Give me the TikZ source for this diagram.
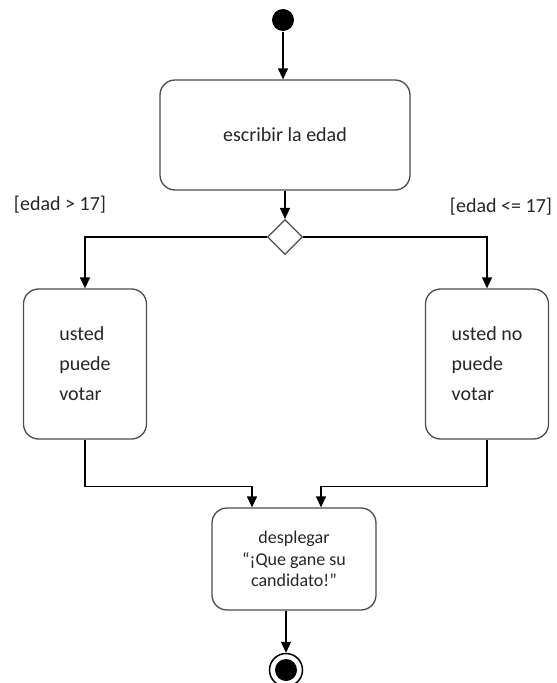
\documentclass[tikz,border=0pt]{standalone}
\usepackage{fontspec}
\setmainfont{Carlito}
\usetikzlibrary{positioning}
\usetikzlibrary{arrows.meta}
\usetikzlibrary{shapes.geometric}

\begin{document}
\begin{tikzpicture}[
            x = 1pt, y = -1pt, % one unit per pixel, downwards
            > = {Triangle[width=10pt,length=11pt]}, % arrow head style
            line width = 1.3pt % line style
        ]

        \tikzstyle{activity}=[
            draw = black!70,
            line width = 1.3pt,
            rounded corners = 15pt,
            fill = white,
            text = black!85,
            inner sep = 0pt,
            font = \fontsize{20}{30}\selectfont
        ]
        \tikzstyle{guard}=[text = black!85, font = \fontsize{20}{24}\selectfont]
        \tikzstyle{flow}=[->, black]

        \useasboundingbox (0,0) rectangle (557,683);

	% START AND INPUT
        \node[circle, fill = black, minimum size = 22pt, inner sep = 0pt] (S0) at (283,20) {};
        \node[activity, minimum width = 250pt, minimum height = 110pt] (E1) at (285,135) {escribir la edad};

	% DECISION
        \node[diamond, draw = black!70, line width = 1.2pt, fill = white, minimum size = 35pt, inner sep = 0pt] (D1) at (285,237) {};
        \node[guard] (G1) at (60,205) {[edad > 17]};
        \node[guard] (G2) at (501,207) {[edad <= 17]};

	% BRANCHES
        \node[activity, minimum width = 123pt, minimum height = 150pt, align = left] (V1) at (85,364) {usted\\puede\\votar};
        \node[activity, minimum width = 123pt, minimum height = 150pt, align = left] (V2) at (487,364) {usted no\\puede\\votar};

	% MERGE AND END
        \node[activity, minimum width = 164pt, minimum height = 102pt, align = center, font = \fontsize{18}{21.5}\selectfont] (M1) at (294,559) {desplegar\\“¡Que gane su\\candidato!”};
        \node[circle, draw = black, line width = 1.5pt, minimum size = 33pt, inner sep = 0pt] (F0) at (286,670) {};
        \node[circle, fill = black, minimum size = 22pt, inner sep = 0pt] (F1) at (F0) {};

        \coordinate (M1a) at ([xshift=-42pt]M1.north);
        \coordinate (M1b) at ([xshift=27pt]M1.north);

        \draw[flow] (S0) -- (S0 |- E1.north);
        \draw[flow] (E1.south -| D1) -- (D1.north);
        \draw[flow] (D1.west) -| (V1.north);
        \draw[flow] (D1.east) -| (V2.north);
        \draw[flow] (V1.south) -- ++(0,47) -| (M1a);
        \draw[flow] (V2.south) -- ++(0,47) -| (M1b);
        \draw[flow] (F0 |- M1.south) -- (F0.north);

  \end{tikzpicture}
\end{document}
